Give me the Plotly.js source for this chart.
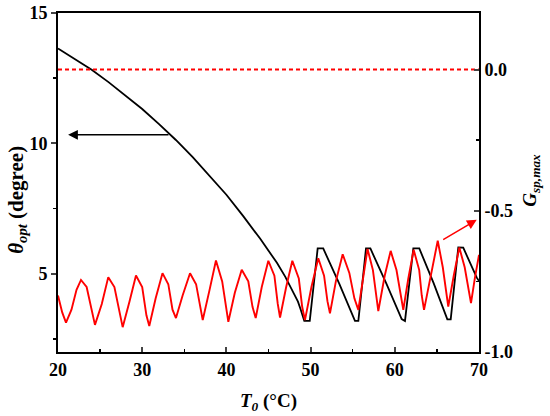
<!DOCTYPE html>
<html>
<head>
<meta charset="utf-8">
<script src="https://cdn.plot.ly/plotly-3.0.1.min.js"></script>
<style>html,body{margin:0;padding:0;background:#fff;}#chart{width:550px;height:416px;}</style>
</head>
<body>
<div id="chart"></div>
<script>
// Black curve: theta_opt (degree), left axis
var blackT = [20.0, 22.0, 24.0, 26.0, 28.0, 30.0, 32.0, 34.0, 36.0, 38.0, 40.0, 42.0, 44.0, 46.0, 47.0, 48.0, 48.5, 48.8, 49.25, 49.9,
  50.84, 51.5, 53.4, 55.27, 55.67, 56.58, 57.1, 59.0, 60.82, 61.21, 62.2, 62.91, 64.6, 66.24, 66.64, 67.54, 68.13, 69.72, 70.0];
var blackTheta = [13.64, 13.24, 12.82, 12.35, 11.85, 11.32, 10.74, 10.13, 9.47, 8.77, 8.03, 7.21, 6.35, 5.42, 4.88, 4.25, 3.93, 3.65, 3.19, 3.19,
  5.97, 5.97, 4.62, 3.19, 3.19, 5.97, 5.97, 4.62, 3.26, 3.19, 5.97, 5.97, 4.65, 3.25, 3.25, 6.01, 6.0, 4.86, 4.72];

// Red curve: G_sp,max, right axis
var redT = [20.0, 20.5, 20.95, 21.6, 22.2, 22.73, 23.4, 24.0, 24.39, 25.2, 25.97, 26.7, 27.3, 27.68, 28.5, 29.26,
  30.0, 30.5, 30.84, 31.6, 32.41, 33.1, 33.6, 34.01, 34.8, 35.68, 36.4, 36.9, 37.19, 38.0, 38.76, 39.5, 40.0, 40.23,
  41.0, 41.82, 42.6, 43.1, 43.48, 44.2, 44.98, 45.7, 46.1, 46.37, 47.1, 47.83, 48.6, 49.0, 49.33, 50.1, 50.91,
  51.6, 52.0, 52.3, 53.0, 53.81, 54.6, 55.2, 55.67, 56.2, 56.76, 57.4, 57.8, 58.04, 58.8, 59.51, 60.2, 60.7, 61.01,
  61.6, 62.24, 62.9, 63.2, 63.47, 64.3, 65.1, 65.7, 66.1, 66.35, 67.0, 67.66, 68.3, 68.8, 69.05, 69.5, 70.0];
var redG = [-0.80, -0.86, -0.896, -0.85, -0.78, -0.745, -0.77, -0.85, -0.904, -0.83, -0.735, -0.77, -0.86, -0.912, -0.82, -0.729,
  -0.77, -0.87, -0.908, -0.81, -0.721, -0.76, -0.85, -0.880, -0.80, -0.721, -0.76, -0.85, -0.887, -0.78, -0.676, -0.75, -0.85, -0.893,
  -0.79, -0.709, -0.75, -0.84, -0.880, -0.77, -0.677, -0.73, -0.83, -0.878, -0.77, -0.677, -0.74, -0.84, -0.887, -0.77, -0.668,
  -0.73, -0.82, -0.863, -0.75, -0.654, -0.72, -0.81, -0.851, -0.74, -0.635, -0.71, -0.80, -0.855, -0.73, -0.642, -0.71, -0.80, -0.851,
  -0.74, -0.638, -0.71, -0.80, -0.851, -0.72, -0.606, -0.70, -0.79, -0.839, -0.73, -0.630, -0.70, -0.79, -0.827, -0.74, -0.656];

// Reference line G = 0
var refT = [20, 70];
var refG = [0, 0];

// Arrow end points (tail -> head)
var blackArrowT = [33.3, 21.2];
var blackArrowTheta = [10.33, 10.33];
var redArrowT = [65.57, 69.73];
var redArrowG = [-0.605, -0.532];

var xTicks = [20, 30, 40, 50, 60, 70];
var yTicks = [5, 10, 15];
var y2Ticks = [-1.0, -0.5, 0.0];
var y2Labels = ['-1.0', '-0.5', '0.0'];

var F = 'Liberation Serif, Times New Roman, serif';

var traces = [
  {x: refT, y: refG, yaxis: 'y2', mode: 'lines', line: {color: '#ff0000', width: 2, dash: '4px,3px'}, hoverinfo: 'skip'},
  {x: redT, y: redG, yaxis: 'y2', mode: 'lines', line: {color: '#ff0000', width: 1.9}},
  {x: blackT, y: blackTheta, mode: 'lines', line: {color: '#000000', width: 1.8}}
];

function tf() { return {family: F, size: 18, color: '#000', weight: 'bold'}; }

var layout = {
  width: 550, height: 416,
  margin: {l: 58, r: 71, t: 13, b: 64},
  paper_bgcolor: '#fff', plot_bgcolor: '#fff',
  showlegend: false,
  font: {family: F, size: 18, color: '#000'},
  xaxis: {
    range: [20, 70], tickvals: xTicks, ticks: 'inside', ticklen: 5, tickwidth: 2,
    showline: true, linewidth: 2, linecolor: '#000', mirror: true,
    showgrid: false, zeroline: false, tickfont: tf(),
    minor: {tickvals: [25, 35, 45, 55, 65], ticks: 'inside', ticklen: 3, tickwidth: 1.5, tickcolor: '#000'}
  },
  yaxis: {
    range: [2, 15], tickvals: yTicks, ticks: 'outside', ticklen: 5, tickwidth: 2,
    showline: true, linewidth: 2, linecolor: '#000',
    showgrid: false, zeroline: false, tickfont: tf(),
    minor: {tickvals: [2.5, 7.5, 12.5], ticks: 'outside', ticklen: 3, tickwidth: 1.5, tickcolor: '#000'}
  },
  yaxis2: {
    overlaying: 'y', side: 'right', range: [-1, 0.2],
    tickvals: y2Ticks, ticktext: y2Labels, ticks: 'inside', ticklen: 5, tickwidth: 2,
    showline: true, linewidth: 2, linecolor: '#000',
    showgrid: false, zeroline: false, tickfont: tf(),
    minor: {tickvals: [-0.75, -0.25], ticks: 'inside', ticklen: 3, tickwidth: 1.5, tickcolor: '#000'}
  },
  annotations: [
    {xref: 'paper', yref: 'paper', x: -0.098, y: 0.448, xanchor: 'center', yanchor: 'middle', textangle: -90, showarrow: false,
     text: '<b><i>θ</i><sub><i>opt</i></sub> (degree)</b>', font: {family: F, size: 21, color: '#000'}},
    {xref: 'paper', yref: 'paper', x: 1.125, y: 0.507, xanchor: 'center', yanchor: 'middle', textangle: -90, showarrow: false,
     text: '<b><i>G</i><sub><i>sp,max</i></sub></b>', font: {family: F, size: 19, color: '#000'}},
    {xref: 'paper', yref: 'paper', x: 0.501, y: -0.147, xanchor: 'center', yanchor: 'middle', showarrow: false,
     text: '<b><i>T</i><sub><i>0</i></sub> (°C)</b>', font: {family: F, size: 19, color: '#000'}},
    {xref: 'x', yref: 'y', x: blackArrowT[1], y: blackArrowTheta[1], axref: 'x', ayref: 'y', ax: blackArrowT[0], ay: blackArrowTheta[0], text: '',
     showarrow: true, arrowhead: 2, arrowsize: 1.3, arrowwidth: 1.5, arrowcolor: '#000'},
    {xref: 'x', yref: 'y2', x: redArrowT[1], y: redArrowG[1], axref: 'x', ayref: 'y2', ax: redArrowT[0], ay: redArrowG[0], text: '',
     showarrow: true, arrowhead: 2, arrowsize: 1.3, arrowwidth: 1.5, arrowcolor: '#ff0000'}
  ]
};

Plotly.newPlot('chart', traces, layout, {displayModeBar: false, staticPlot: true});
</script>
</body>
</html>
